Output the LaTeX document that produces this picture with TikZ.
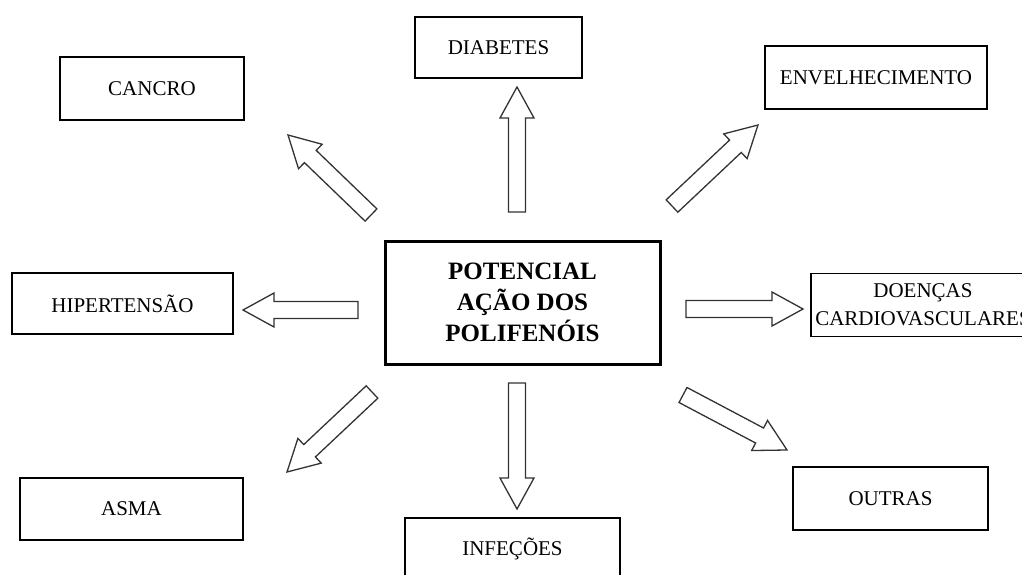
\documentclass[tikz,border=0pt]{standalone}
\usepackage{fontspec}
\setmainfont{Liberation Serif}
\usetikzlibrary{calc}
\tikzset{
 lbl/.style={draw=black, line width=1.6pt, rectangle, inner sep=0pt, align=center, font=\fontsize{21}{28}\selectfont},
 core/.style={draw=black, line width=3pt, rectangle, inner sep=0pt, align=center, font=\bfseries\fontsize{25}{31}\selectfont},
 blockarrow/.style={draw=black!80, line width=1.3pt, line join=miter, fill=white}
}
\newcommand\blockarr[2]{%
 \coordinate (#1-h) at ($(#2)!31pt!(#1)$);
 \draw[blockarrow] ($(#1)!8.5pt!90:(#2)$) -- ($(#1-h)!8.5pt!90:(#2)$) -- ($(#1-h)!17pt!90:(#2)$) -- (#2)
   -- ($(#1-h)!17pt!-90:(#2)$) -- ($(#1-h)!8.5pt!-90:(#2)$) -- ($(#1)!8.5pt!-90:(#2)$) -- cycle;}
\begin{document}
\begin{tikzpicture}[x=1pt,y=-1pt]
\useasboundingbox (0,0) rectangle (1022,575);
\clip (0,0) rectangle (1022,575);
\fill[white] (0,0) rectangle (1022,575);
% boxes
\node[core, minimum width=275pt, minimum height=123pt] (core) at (522.5,302.5) {POTENCIAL\\AÇÃO DOS\\POLIFENÓIS};
\node[lbl, minimum width=184pt, minimum height=63pt] (cancro) at (152,88.5) {CANCRO};
\node[lbl, minimum width=167pt, minimum height=61pt] (diab) at (498.5,47.5) {DIABETES};
\node[lbl, minimum width=222pt, minimum height=63pt] (env) at (876,77.5) {ENVELHECIMENTO};
\node[lbl, minimum width=221pt, minimum height=61pt] (hip) at (122.5,303.5) {HIPERTENSÃO};
\node[lbl, minimum width=224pt, minimum height=63pt] (card) at (923,305) {DOENÇAS\\CARDIOVASCULARES};
\node[lbl, minimum width=223pt, minimum height=62pt] (asma) at (131.5,509) {ASMA};
\node[lbl, minimum width=215pt, minimum height=62pt] (inf) at (512.5,549) {INFEÇÕES};
\node[lbl, minimum width=195pt, minimum height=63pt] (outras) at (890.5,498.5) {OUTRAS};
% arrow end points
\coordinate (upA) at (517,212);  \coordinate (upB) at (517,87);
\coordinate (dnA) at (517,383);  \coordinate (dnB) at (517,509);
\coordinate (ltA) at (358,310);  \coordinate (ltB) at (243,310);
\coordinate (rtA) at (686,309);  \coordinate (rtB) at (803,309);
\coordinate (caA) at (371,215);  \coordinate (caB) at (288,135);
\coordinate (enA) at (672,206);  \coordinate (enB) at (758,125);
\coordinate (asA) at (372,392);  \coordinate (asB) at (287,472);
\coordinate (ouA) at (683,395);  \coordinate (ouB) at (787,450);
\blockarr{upA}{upB}
\blockarr{dnA}{dnB}
\blockarr{ltA}{ltB}
\blockarr{rtA}{rtB}
\blockarr{caA}{caB}
\blockarr{enA}{enB}
\blockarr{asA}{asB}
\blockarr{ouA}{ouB}
\end{tikzpicture}
\end{document}
